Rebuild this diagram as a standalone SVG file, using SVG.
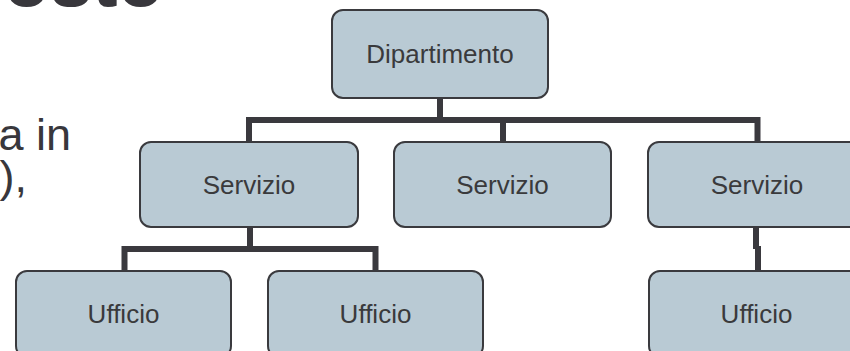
<svg xmlns="http://www.w3.org/2000/svg" width="850" height="351" viewBox="0 0 850 351">
<style>
.bg{font-family:"Liberation Sans",Arial,sans-serif;fill:#38373c}
.box{fill:#b9cad4;stroke:#3a3a3e;stroke-width:2}
.lbl{font-family:"Liberation Sans",Arial,sans-serif;font-size:26px;fill:#3a3a3c;text-anchor:middle}
.conn{fill:none;stroke:#3a393e;stroke-width:6;stroke-linecap:butt;stroke-linejoin:miter}
</style>
<rect width="850" height="351" fill="#ffffff"/>
<text class="bg" x="164" y="6" font-size="76" font-weight="bold" text-anchor="end">osto</text>
<text class="bg" x="71" y="150" font-size="45" text-anchor="end">a in</text>
<text class="bg" x="27" y="192" font-size="45" text-anchor="end">),</text>
<g id="connectors">
<path class="conn" d="M440,98 V120"/>
<path class="conn" d="M249,142 V120 H757.5 V142"/>
<path class="conn" d="M503,120 V142"/>
<path class="conn" d="M250,227 V249"/>
<path class="conn" d="M124.5,271 V249 H375.5 V271"/>
<path class="conn" d="M756,227 V249"/>
<path class="conn" d="M758,246 V271"/>
</g>
<g id="dipartimento">
<rect class="box" x="332" y="10" width="216" height="88" rx="11"/>
<text class="lbl" x="440" y="63">Dipartimento</text>
</g>
<g id="servizio1">
<rect class="box" x="140" y="142" width="218" height="85" rx="11"/>
<text class="lbl" x="249" y="194">Servizio</text>
</g>
<g id="servizio2">
<rect class="box" x="394" y="142" width="217" height="85" rx="11"/>
<text class="lbl" x="502.5" y="194">Servizio</text>
</g>
<g id="servizio3">
<rect class="box" x="648" y="142" width="218" height="85" rx="11"/>
<text class="lbl" x="757" y="194">Servizio</text>
</g>
<g id="ufficio1">
<rect class="box" x="16" y="271" width="215" height="86" rx="11"/>
<text class="lbl" x="123.5" y="323">Ufficio</text>
</g>
<g id="ufficio2">
<rect class="box" x="268" y="271" width="215" height="86" rx="11"/>
<text class="lbl" x="375.5" y="323">Ufficio</text>
</g>
<g id="ufficio3">
<rect class="box" x="649" y="271" width="215" height="86" rx="11"/>
<text class="lbl" x="756.5" y="323">Ufficio</text>
</g>
</svg>
